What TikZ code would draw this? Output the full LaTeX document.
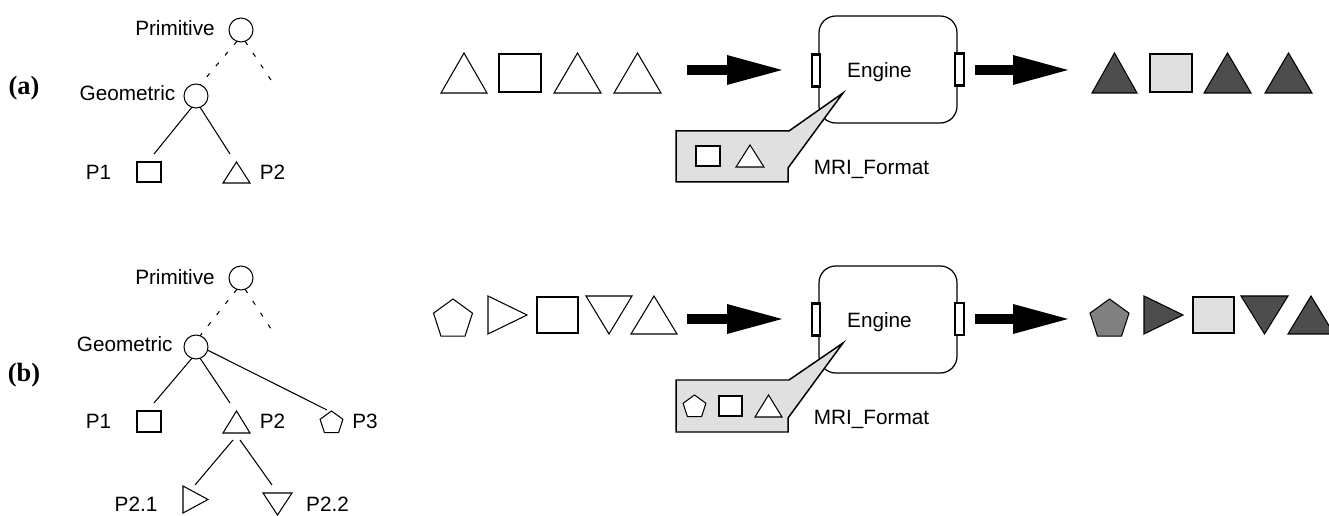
\documentclass[tikz,border=0pt]{standalone}
\usepackage{fontspec}
\setmainfont{Liberation Sans}
\newfontfamily\tagfont{Liberation Serif}
\usetikzlibrary{arrows.meta,shapes.geometric}

\definecolor{lightfill}{HTML}{E0E0E0}
\definecolor{darkfill}{HTML}{4D4D4D}
\definecolor{midfill}{HTML}{808080}

% primitive glyphs, given by their bounding box (x1,y1)-(x2,y2)
\newcommand\shUp[5][]{\path[#1] (#2,#5) -- (#4,#5) -- ({(#2+#4)/2},#3) -- cycle;}
\newcommand\shDown[5][]{\path[#1] (#2,#3) -- (#4,#3) -- ({(#2+#4)/2},#5) -- cycle;}
\newcommand\shRight[5][]{\path[#1] (#2,#3) -- (#4,{(#3+#5)/2}) -- (#2,#5) -- cycle;}
\newcommand\shSq[5][]{\path[#1] (#2,#3) rectangle (#4,#5);}
% pentagon: centre (#2,#3), circumradius #4
\newcommand\shPent[4][]{\path[#1] ([shift={(#2,#3)}]-90:#4) -- ([shift={(#2,#3)}]-18:#4)
  -- ([shift={(#2,#3)}]54:#4) -- ([shift={(#2,#3)}]126:#4) -- ([shift={(#2,#3)}]198:#4) -- cycle;}

\tikzset{
  lbl/.style={font=\fontsize{11.8}{14}\selectfont, inner sep=0pt, anchor=base},
  tag/.style={font=\tagfont\bfseries\fontsize{15}{18}\selectfont, inner sep=0pt},
  treenode/.style={circle, draw, line width=0.6pt, minimum size=0.48cm, inner sep=0pt, outer sep=0pt},
  edge/.style={line width=0.6pt},
  dashedge/.style={line width=0.6pt, dash pattern=on 2.5pt off 5.5pt},
  hollow/.style={draw, fill=white, line width=0.6pt, line join=miter},
  hollowsq/.style={draw, fill=white, line width=1.15pt},
  darkshape/.style={draw, fill=darkfill, line width=0.6pt, line join=miter},
  midshape/.style={draw, fill=midfill, line width=0.6pt, line join=miter},
  lightsq/.style={draw, fill=lightfill, line width=1.15pt},
  blockarrow/.style={line width=0.2cm, -{Triangle[length=1.1cm, width=0.6cm, line width=0pt]}},
  engine/.style={draw, rounded corners=9.5pt, line width=0.7pt, minimum width=2.76cm,
    minimum height=2.14cm, inner sep=0pt, outer sep=0pt},
  port/.style={draw, fill=white, line width=1.4pt, minimum width=0.17cm, minimum height=0.64cm, inner sep=0pt},
  callout/.style={draw, fill=lightfill, line width=0.85pt, line join=miter},
}

\begin{document}
\begin{tikzpicture}[x=0.02cm, y=-0.02cm]
\useasboundingbox (0,0) rectangle (1329,516);

% ---------------- (a) ----------------
\node[tag] (tagA) at (24,88) {(a)};

\node[treenode] (primA) at (241,30) {};
\node[lbl] (primAt) at (175,36) {Primitive};
\node[treenode] (geoA) at (196,96) {};
\node[lbl] (geoAt) at (127.5,101) {Geometric};
\coordinate (dashA) at (275,86);
\coordinate (p1Aend) at (154,154);
\coordinate (p2Aend) at (230,154);
\draw[dashedge] (primA.-110) -- (geoA.70);
\draw[dashedge] (primA.-70) -- (dashA);
\draw[edge] (geoA.-110) -- (p1Aend);
\draw[edge] (geoA.-70) -- (p2Aend);
\shSq[hollowsq]{137}{162}{161}{182}
\shUp[hollow]{223}{162}{250}{183}
\node[lbl] (p1At) at (98.5,180) {P1};
\node[lbl] (p2At) at (272.5,180) {P2};

% input stream
\shUp[hollow]{441}{53}{487}{93}
\shSq[hollowsq]{499}{54}{541}{92}
\shUp[hollow]{554}{53}{601}{93}
\shUp[hollow]{614}{53}{661}{93}

% engine with its format description
\node[engine] (engA) at (888,69.5) {};
\draw[callout] (676,131) -- (789,131) -- (843,93) -- (788,168) -- (788,182) -- (676,182) -- cycle;
\shSq[hollowsq]{696}{146}{720}{166}
\shUp[hollow]{736}{145}{764}{167}
\node[port] (portAin) at (816,70.5) {};
\node[port] (portAout) at (959.5,69.5) {};
\node[lbl] (engAt) at (879.5,78) {Engine};
\node[lbl] (mriA) at (871.5,175) {MRI\_Format};

\coordinate (inAs) at (687,70);
\coordinate (inAe) at (782,70);
\coordinate (outAs) at (975,70);
\coordinate (outAe) at (1068,70);
\draw[blockarrow] (inAs) -- (inAe);
\draw[blockarrow] (outAs) -- (outAe);

% output stream
\shUp[darkshape]{1092}{53}{1137}{93}
\shSq[lightsq]{1150}{54}{1192}{92}
\shUp[darkshape]{1204}{53}{1251}{93}
\shUp[darkshape]{1265}{53}{1312}{93}

% ---------------- (b) ----------------
\node[tag] (tagB) at (24,375) {(b)};

\node[treenode] (primB) at (241,278) {};
\node[lbl] (primBt) at (175,285) {Primitive};
\node[treenode] (geoB) at (196,347) {};
\node[lbl] (geoBt) at (124.7,352) {Geometric};
\coordinate (dashB) at (275,335);
\coordinate (p1Bend) at (154,403);
\coordinate (p2Bend) at (230,403);
\coordinate (p3Bend) at (327,410);
\coordinate (p2Bl) at (233,440);
\coordinate (p2Br) at (240,440);
\coordinate (p21end) at (195,485);
\coordinate (p22end) at (272,485);
\draw[dashedge] (primB.-110) -- (geoB.70);
\draw[dashedge] (primB.-70) -- (dashB);
\draw[edge] (geoB.-110) -- (p1Bend);
\draw[edge] (geoB.-70) -- (p2Bend);
\draw[edge] (geoB.-15) -- (p3Bend);
\draw[edge] (p2Bl) -- (p21end);
\draw[edge] (p2Br) -- (p22end);
\shSq[hollowsq]{137}{411}{161}{432}
\shUp[hollow]{223}{411}{250}{433}
\shPent[hollow]{331.5}{423}{12}
\shRight[hollow]{183}{486}{208}{513}
\shDown[hollow]{263}{493}{292}{515}
\node[lbl] (p1Bt) at (98.5,429) {P1};
\node[lbl] (p2Bt) at (272.5,429) {P2};
\node[lbl] (p3Bt) at (365,429) {P3};
\node[lbl] (p21t) at (136,512) {P2.1};
\node[lbl] (p22t) at (327.5,512) {P2.2};

% input stream
\shPent[hollow]{453}{319.5}{20.5}
\shRight[hollow]{488}{296}{527}{334}
\shSq[hollowsq]{537}{297}{578}{333}
\shDown[hollow]{586}{296}{632}{334}
\shUp[hollow]{631}{296}{677}{334}

% engine with its format description
\node[engine] (engB) at (888,319.5) {};
\draw[callout] (676,380) -- (789,380) -- (843,343) -- (788,418) -- (788,432) -- (676,432) -- cycle;
\shPent[hollow]{694.5}{407}{12}
\shSq[hollowsq]{719}{396}{742}{416}
\shUp[hollow]{755}{395}{782}{417}
\node[port] (portBin) at (816,319.5) {};
\node[port] (portBout) at (959.5,319) {};
\node[lbl] (engBt) at (879.5,328) {Engine};
\node[lbl] (mriB) at (871.5,425) {MRI\_Format};

\coordinate (inBs) at (687,319);
\coordinate (inBe) at (782,319);
\coordinate (outBs) at (975,319);
\coordinate (outBe) at (1068,319);
\draw[blockarrow] (inBs) -- (inBe);
\draw[blockarrow] (outBs) -- (outBe);

% output stream
\shPent[midshape]{1109.5}{319.5}{20.5}
\shRight[darkshape]{1144}{296}{1183}{334}
\shSq[lightsq]{1193}{297}{1234}{333}
\shDown[darkshape]{1241}{296}{1288}{334}
\shUp[darkshape]{1288}{296}{1334}{334}
\end{tikzpicture}
\end{document}
